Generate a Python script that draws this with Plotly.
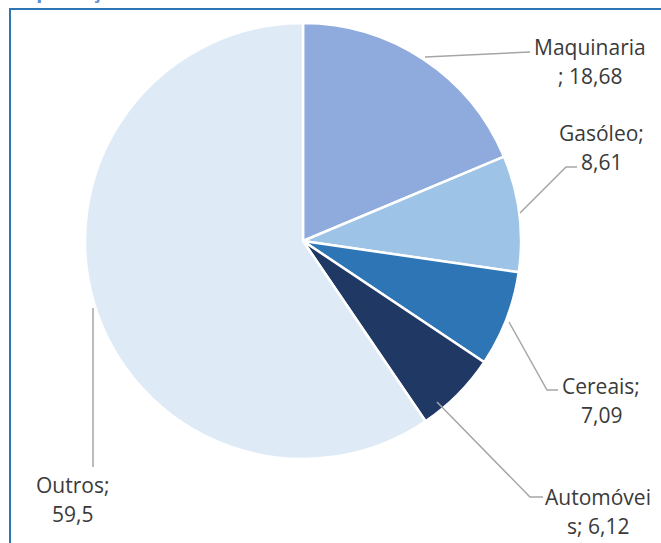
import plotly.graph_objects as go

W, H = 661, 543

categories = ["Maquinaria", "Gasóleo", "Cereais", "Automóveis", "Outros"]
values = [18.68, 8.61, 7.09, 6.12, 59.5]
colors = ["#8FAADC", "#9DC3E6", "#2E75B6", "#1F3864", "#DEEBF7"]
label_texts = ["Maquinaria<br>; 18,68", "Gasóleo;<br>8,61", "Cereais;<br>7,09",
               "Automóvei<br>s; 6,12", "Outros;<br>59,5"]
title_text = "Importações"

# layout helpers (pixel -> paper)
def px(x):
    return x / W

def py(y):
    return 1 - y / H

cx, cy, r = 303, 241, 218

fig = go.Figure(go.Pie(
    labels=categories, values=values, sort=False, direction="clockwise",
    rotation=0, textinfo="none", hoverinfo="label+value",
    marker=dict(colors=colors, line=dict(color="white", width=2.5)),
    domain=dict(x=[px(cx - r), px(cx + r)], y=[py(cy + r), py(cy - r)]),
    showlegend=False,
))

# label positions (pixel centers of first line) and leader line paths
label_pos = [(590, 47), (601, 133), (601, 386), (598, 497), (72, 485)]
line_gap = 29
leaders = [
    [(425, 57), (530, 52)],
    [(520, 213), (566, 167), (577, 167)],
    [(509, 322), (547, 390), (558, 390)],
    [(437, 402), (530, 497), (543, 497)],
    [(93, 308), (93, 467)],
]

annotations = []
for t, (x, y) in zip(label_texts, label_pos):
    for i, part in enumerate(t.split("<br>")):
        annotations.append(dict(
            x=px(x), y=py(y + i * line_gap), xref="paper", yref="paper", text=part,
            showarrow=False, xanchor="center", yanchor="middle", align="center",
            font=dict(family="Open Sans", size=21, color="#3A3A3A"),
        ))
annotations.append(dict(
    x=px(8), y=py(-9), xref="paper", yref="paper", text="<b>" + title_text + "</b>",
    showarrow=False, xanchor="left", yanchor="middle",
    font=dict(family="Open Sans", size=20, color="#5B8ED6"),
))

shapes = []
for pts in leaders:
    path = "M " + " L ".join(f"{px(x)},{py(y)}" for x, y in pts)
    shapes.append(dict(type="path", path=path, xref="paper", yref="paper",
                       line=dict(color="#A6A6A6", width=1.5)))
# frame
shapes.append(dict(type="path", xref="paper", yref="paper",
                   path=f"M {px(10)},{py(560)} L {px(10)},{py(9)} L {px(680)},{py(9)}",
                   line=dict(color="#2E75B6", width=2)))

fig.update_layout(
    width=W, height=H, margin=dict(l=0, r=0, t=0, b=0),
    paper_bgcolor="white", plot_bgcolor="white",
    annotations=annotations, shapes=shapes,
)

fig.write_html("out.html", config={"displayModeBar": False},
               post_script="document.body.style.margin='0';")
